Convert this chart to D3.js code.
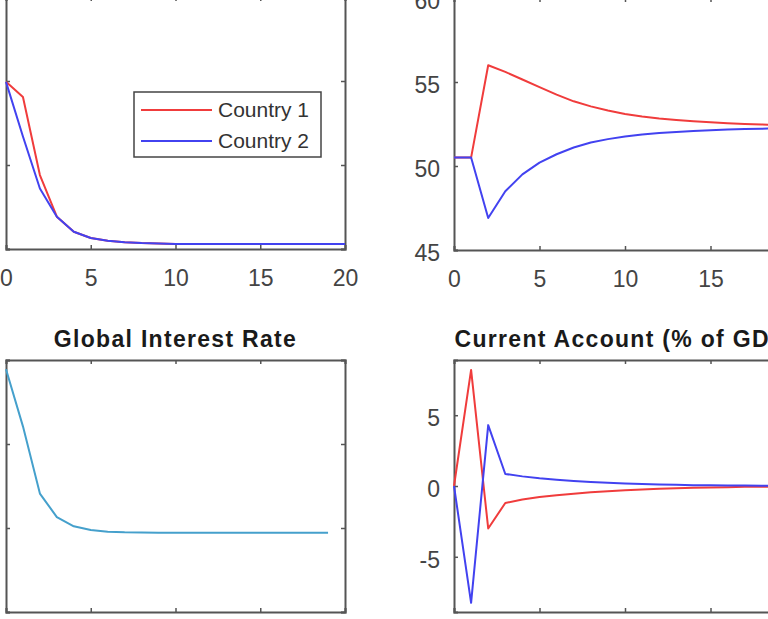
<!DOCTYPE html>
<html><head><meta charset="utf-8">
<script src="https://cdn.jsdelivr.net/npm/d3@7"></script>
<style>
html,body{margin:0;padding:0;background:#fff;overflow:hidden;}
svg{display:block;}
text{font-family:"Liberation Sans",Arial,Helvetica,sans-serif;}
</style></head>
<body>
<svg id="chart" width="768" height="619"></svg>
<script>
// ---- data ----
const periods = d3.range(0, 21);            // 0..20
const periodsRate = d3.range(0, 20);        // 0..19
const seriesNames = ["Country 1", "Country 2"];

// Top-left panel (title outside view)
const tlCountry1 = [1.99,1.81,0.88,0.385,0.206,0.131,0.099,0.08,0.07,0.065,0.06,0.06,0.06,0.06,0.06,0.06,0.06,0.06,0.06,0.06,0.06];
const tlCountry2 = [1.99,1.34,0.72,0.385,0.206,0.131,0.099,0.08,0.07,0.065,0.06,0.06,0.06,0.06,0.06,0.06,0.06,0.06,0.06,0.06,0.06];
const tlYTicks = [0,1,2,3];

// Top-right panel
const trCountry1 = [50.5,50.5,56.0,55.6,55.15,54.7,54.25,53.85,53.55,53.3,53.1,52.95,52.83,52.74,52.67,52.6,52.55,52.5,52.47,52.44,52.42];
const trCountry2 = [50.5,50.5,46.9,48.5,49.5,50.2,50.7,51.1,51.4,51.6,51.75,51.87,51.96,52.03,52.09,52.13,52.17,52.2,52.22,52.24,52.26];
const trYTicks = [45,50,55,60];

// Global Interest Rate
const globalRate = [2.89,2.21,1.41,1.13,1.02,0.976,0.956,0.948,0.945,0.944,0.944,0.944,0.944,0.944,0.944,0.944,0.944,0.944,0.944,0.944];
const grYTicks = [0,1,2,3];

// Current Account (% of GDP)
const caCountry1 = [0,8.2,-3.0,-1.2,-0.95,-0.78,-0.65,-0.54,-0.45,-0.37,-0.3,-0.25,-0.2,-0.16,-0.13,-0.1,-0.08,-0.06,-0.05,-0.04,-0.03];
const caCountry2 = [0,-8.25,4.3,0.85,0.68,0.55,0.45,0.36,0.29,0.23,0.18,0.14,0.11,0.08,0.06,0.05,0.04,0.03,0.02,0.02,0.01];
const caYTicks = [-5,0,5];

const xTicks = [0,5,10,15,20];
const titles = ["", "", "Global Interest Rate", "Current Account (% of GDP)"];

// ---- drawing ----
const svg = d3.select("#chart");
const RED = "#f03c3c", BLUE = "#4242f0", TEAL = "#45a0cc";
const AX = "#555", TXT = "#444";
const fmt = d => String(d);

function panel(box, yDomain, yTicks, seriesList, title, showXLabels, showYLabels) {
  const x = d3.scaleLinear().domain([0,20]).range([box.x0, box.x1]);
  const y = d3.scaleLinear().domain(yDomain).range([box.y1, box.y0]);
  const g = svg.append("g");
  const tl = 4;
  const bottom = g.append("g").attr("transform", `translate(0,${box.y1})`)
    .call(d3.axisBottom(x).tickValues(xTicks).tickSize(-tl).tickPadding(21).tickFormat(fmt));
  const top = g.append("g").attr("transform", `translate(0,${box.y0})`)
    .call(d3.axisTop(x).tickValues(xTicks).tickSize(-tl).tickFormat(""));
  const left = g.append("g").attr("transform", `translate(${box.x0},0)`)
    .call(d3.axisLeft(y).tickValues(yTicks).tickSize(-tl).tickPadding(14).tickFormat(fmt));
  const right = g.append("g").attr("transform", `translate(${box.x1},0)`)
    .call(d3.axisRight(y).tickValues(yTicks).tickSize(-tl).tickFormat(""));
  [bottom, top, left, right].forEach(a => {
    a.select(".domain").attr("stroke", AX).attr("stroke-width", 2);
    a.selectAll(".tick line").attr("stroke", AX).attr("stroke-width", 1.5);
    a.selectAll("text").attr("fill", TXT).style("font-size", "23px");
  });
  bottom.selectAll(".tick text").attr("dy", "0.71em");
  left.selectAll(".tick text").attr("dy", "0.45em");
  if (!showXLabels) bottom.selectAll(".tick text").remove();
  if (!showYLabels) left.selectAll(".tick text").remove();

  const line = d3.line().x((d,i) => x(i)).y(d => y(d));
  seriesList.forEach(s => {
    g.append("path").datum(s.values).attr("fill","none")
      .attr("stroke", s.color).attr("stroke-width", 2)
      .attr("stroke-linejoin","round").attr("d", line);
  });
  if (title) {
    g.append("text").attr("x", (box.x0+box.x1)/2).attr("y", box.y0 - 13)
      .attr("text-anchor","middle").attr("fill","#1a1a1a")
      .style("font-size","23px").style("font-weight","bold")
      .style("letter-spacing","1.3px").text(title);
  }
  return {x, y, g};
}

// Left-column y labels and bottom-row x labels fall outside the visible frame in the reference.
panel({x0:6,x1:345,y0:-3,y1:249}, [0,3], tlYTicks,
  [{values:tlCountry1,color:RED},{values:tlCountry2,color:BLUE}], titles[0], true, false);
panel({x0:454,x1:796,y0:-2,y1:250}, [45,60], trYTicks,
  [{values:trCountry1,color:RED},{values:trCountry2,color:BLUE}], titles[1], true, true);
panel({x0:6,x1:345,y0:360,y1:612}, [0,3], grYTicks,
  [{values:globalRate,color:TEAL}], titles[2], false, false);
panel({x0:454,x1:796,y0:360,y1:612}, [-8.9,8.9], caYTicks,
  [{values:caCountry1,color:RED},{values:caCountry2,color:BLUE}], titles[3], false, true);

// legend in top-left panel
const lg = svg.append("g");
lg.append("rect").attr("x",134).attr("y",92).attr("width",187).attr("height",65)
  .attr("fill","#fff").attr("stroke","#444").attr("stroke-width",1.5);
[RED, BLUE].forEach((c,i) => {
  const yy = 110 + i*31;
  lg.append("line").attr("x1",141).attr("x2",212).attr("y1",yy).attr("y2",yy)
    .attr("stroke",c).attr("stroke-width",2);
  lg.append("text").attr("x",218).attr("y",yy+7).attr("fill","#333")
    .style("font-size","21px").text(seriesNames[i]);
});
</script>
</body></html>
